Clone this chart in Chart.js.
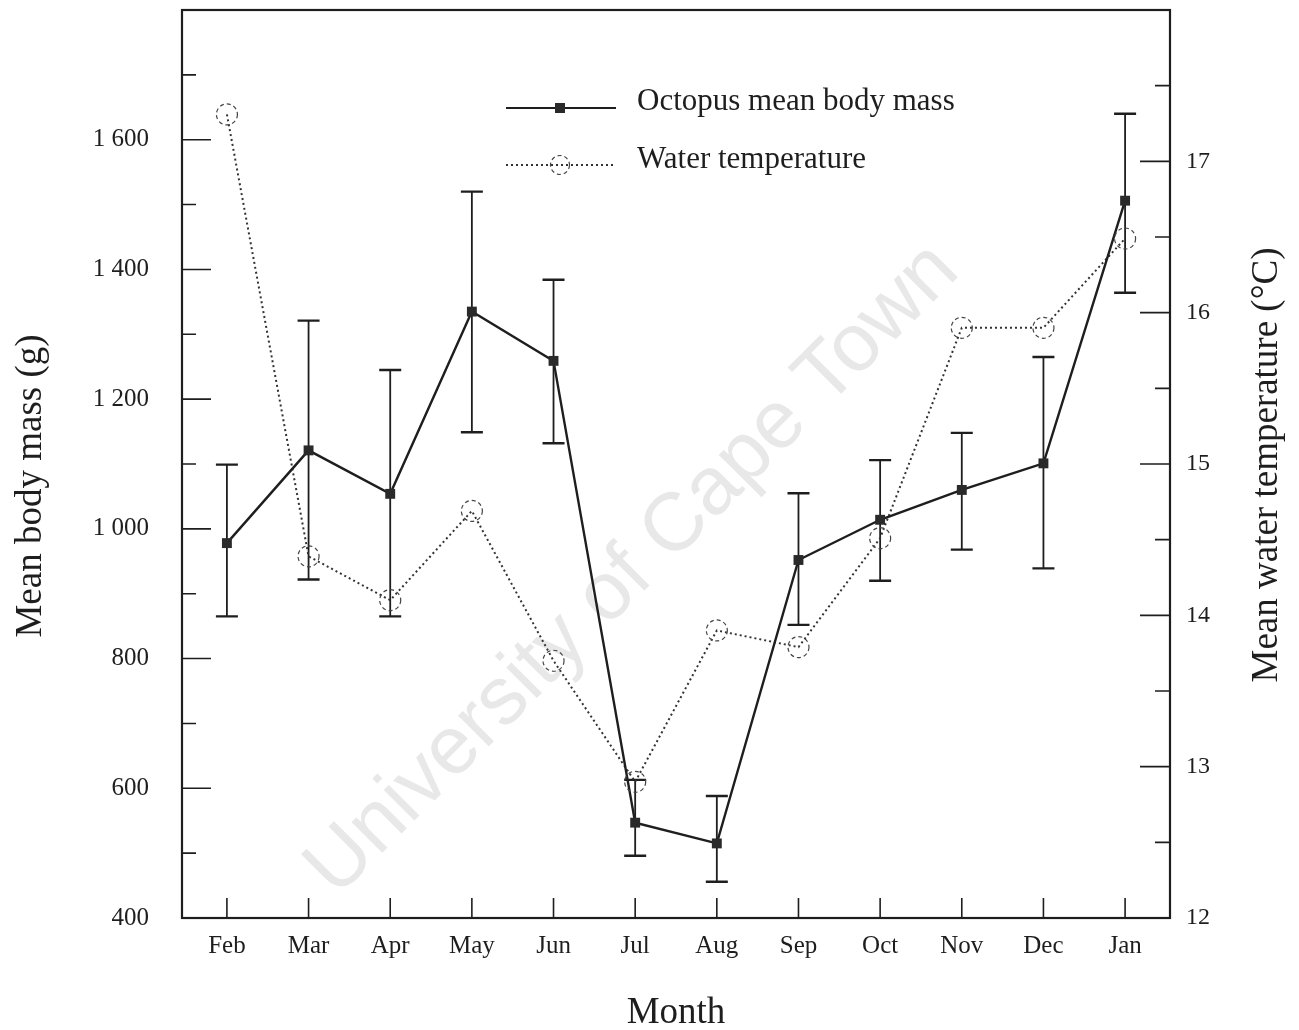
<!DOCTYPE html>
<html>
<head>
<meta charset="utf-8">
<title>Octopus mean body mass and water temperature</title>
<script src="https://cdn.jsdelivr.net/npm/chart.js@4.4.1/dist/chart.umd.min.js"></script>
<style>
    html, body { margin: 0; padding: 0; background: #fff; }
    #wrap { width: 1299px; height: 1030px; }
</style>
</head>
<body>
<div id="wrap"><canvas id="massChart" width="1299" height="1030"></canvas></div>
<script>
const months = ['Feb', 'Mar', 'Apr', 'May', 'Jun', 'Jul', 'Aug', 'Sep', 'Oct', 'Nov', 'Dec', 'Jan'];

// mean body mass (g) with error bar ends
const massMean  = [978, 1121, 1054, 1335, 1259, 547, 515, 952, 1014, 1060, 1101, 1506];
const massUpper = [1099, 1321, 1245, 1520, 1384, 613, 588, 1055, 1106, 1148, 1265, 1640];
const massLower = [865, 922, 865, 1149, 1132, 496, 456, 852, 920, 968, 939, 1364];

// mean water temperature (°C)
const waterTemp = [17.31, 14.39, 14.10, 14.69, 13.70, 12.90, 13.90, 13.79, 14.51, 15.90, 15.90, 16.49];

const SERIF = '"Liberation Serif", "Times New Roman", serif';
const INK = '#1e1e1e';

function fmtMass(v) {
    if (v < 1000) return String(v);
    return Math.floor(v / 1000) + ' ' + String(v % 1000).padStart(3, '0');
}

function dashedCircle(ctx, x, y, r) {
    ctx.save();
    ctx.setLineDash([4, 3]);
    ctx.lineWidth = 1.2;
    ctx.strokeStyle = '#444';
    ctx.beginPath();
    ctx.arc(x, y, r, 0, Math.PI * 2);
    ctx.stroke();
    ctx.restore();
}

// no label overhang padding, the frame sits on fixed edges
function noPad(s) {
    s.paddingTop = 0;
    s.paddingBottom = 0;
    s.paddingLeft = 0;
    s.paddingRight = 0;
}

// faint scan watermark, under everything
const watermark = {
    id: 'watermark',
    beforeDatasetsDraw(chart) {
        const { ctx } = chart;
        ctx.save();
        ctx.translate(633, 570);
        ctx.rotate(-Math.PI / 4);
        ctx.font = '82px "Liberation Sans", Arial, sans-serif';
        ctx.fillStyle = '#e8e8e8';
        ctx.textAlign = 'center';
        ctx.textBaseline = 'middle';
        ctx.fillText('University of Cape Town', 0, 0);
        ctx.restore();
    }
};

const errorBars = {
    id: 'errorBars',
    beforeDatasetsDraw(chart) {
        const { ctx, scales: { x, y } } = chart;
        ctx.save();
        ctx.strokeStyle = INK;
        months.forEach((m, i) => {
            const px = x.getPixelForValue(i);
            const top = y.getPixelForValue(massUpper[i]);
            const bot = y.getPixelForValue(massLower[i]);
            ctx.lineWidth = 1.8;
            ctx.beginPath();
            ctx.moveTo(px, top);
            ctx.lineTo(px, bot);
            ctx.stroke();
            ctx.lineWidth = 2.4;
            ctx.beginPath();
            ctx.moveTo(px - 11, top); ctx.lineTo(px + 11, top);
            ctx.moveTo(px - 11, bot); ctx.lineTo(px + 11, bot);
            ctx.stroke();
        });
        ctx.restore();
    }
};

const tempCircles = {
    id: 'tempCircles',
    afterDatasetsDraw(chart) {
        const meta = chart.getDatasetMeta(1);
        meta.data.forEach(pt => dashedCircle(chart.ctx, pt.x, pt.y, 10.5));
    }
};

// box frame, inward tick marks, y titles and the legend
const frame = {
    id: 'frame',
    afterDraw(chart) {
        const { ctx, chartArea: a, scales: { x, y, y2 } } = chart;
        ctx.save();
        ctx.strokeStyle = INK;
        ctx.lineWidth = 1.6;
        ctx.beginPath();
        const step = y.ticks[1].value - y.ticks[0].value;
        y.ticks.forEach(t => {
            const p = y.getPixelForValue(t.value);
            ctx.moveTo(a.left, p); ctx.lineTo(a.left + 29, p);
            if (t.value + step / 2 < y.max) {
                const q = y.getPixelForValue(t.value + step / 2);
                ctx.moveTo(a.left, q); ctx.lineTo(a.left + 14, q);
            }
        });
        const step2 = y2.ticks[1].value - y2.ticks[0].value;
        y2.ticks.forEach(t => {
            const p = y2.getPixelForValue(t.value);
            ctx.moveTo(a.right, p); ctx.lineTo(a.right - 30, p);
            if (t.value + step2 / 2 < y2.max) {
                const q = y2.getPixelForValue(t.value + step2 / 2);
                ctx.moveTo(a.right, q); ctx.lineTo(a.right - 15, q);
            }
        });
        x.ticks.forEach(t => {
            const p = x.getPixelForValue(t.value);
            ctx.moveTo(p, a.bottom); ctx.lineTo(p, a.bottom - 20);
        });
        ctx.stroke();
        ctx.lineWidth = 2.2;
        ctx.strokeRect(a.left, a.top, a.right - a.left, a.bottom - a.top);

        // y axis titles, both read bottom to top
        ctx.fillStyle = INK;
        ctx.font = `37px ${SERIF}`;
        ctx.textAlign = 'center';
        ctx.textBaseline = 'alphabetic';
        [[41, 486, 'Mean body mass (g)'], [1277, 465, 'Mean water temperature (°C)']].forEach(([tx, ty, txt]) => {
            ctx.save();
            ctx.translate(tx, ty);
            ctx.rotate(-Math.PI / 2);
            ctx.fillText(txt, 0, 0);
            ctx.restore();
        });

        // legend
        const ds = chart.data.datasets;
        ctx.lineWidth = 2.2;
        ctx.beginPath();
        ctx.moveTo(506, 108); ctx.lineTo(616, 108);
        ctx.stroke();
        ctx.fillStyle = '#2a2a2a';
        ctx.fillRect(555, 103, 10, 10);
        ctx.save();
        ctx.setLineDash([2, 3]);
        ctx.lineWidth = 2;
        ctx.strokeStyle = '#333';
        ctx.beginPath();
        ctx.moveTo(506, 165); ctx.lineTo(616, 165);
        ctx.stroke();
        ctx.restore();
        dashedCircle(ctx, 560, 165, 9.5);
        ctx.fillStyle = INK;
        ctx.font = `31px ${SERIF}`;
        ctx.textAlign = 'left';
        ctx.fillText(ds[0].label, 637, 110);
        ctx.fillText(ds[1].label, 637, 168);
        ctx.restore();
    }
};

const ctx = document.getElementById('massChart').getContext('2d');
new Chart(ctx, {
    type: 'line',
    data: {
        datasets: [
            {
                label: 'Octopus mean body mass',
                data: months.map((m, i) => ({ x: i, y: massMean[i] })),
                yAxisID: 'y',
                borderColor: INK,
                borderWidth: 2.4,
                pointStyle: 'rect',
                pointRadius: 7,
                pointBackgroundColor: '#2a2a2a',
                pointBorderWidth: 0,
                tension: 0
            },
            {
                label: 'Water temperature',
                data: months.map((m, i) => ({ x: i, y: waterTemp[i] })),
                yAxisID: 'y2',
                borderColor: '#333',
                borderWidth: 2,
                borderDash: [2, 3],
                pointRadius: 0,
                tension: 0
            }
        ]
    },
    options: {
        responsive: false,
        animation: false,
        layout: { padding: { top: 10, left: 0, right: 0, bottom: 0 } },
        plugins: {
            legend: { display: false },
            tooltip: { enabled: false }
        },
        scales: {
            x: {
                type: 'linear',
                min: -0.55,
                max: 11.55,
                afterBuildTicks: s => { s.ticks = months.map((m, i) => ({ value: i })); },
                afterFit: s => { s.height = 112; noPad(s); },
                ticks: {
                    callback: v => months[v],
                    autoSkip: false,
                    maxRotation: 0,
                    padding: 13,
                    color: INK,
                    font: { family: SERIF, size: 25 }
                },
                grid: { display: false, drawTicks: false },
                border: { display: false },
                title: {
                    display: true,
                    text: 'Month',
                    color: INK,
                    font: { family: SERIF, size: 37 },
                    padding: { top: 0, bottom: -5 }
                }
            },
            y: {
                position: 'left',
                min: 400,
                max: 1800,
                afterFit: s => { s.width = 182; noPad(s); },
                ticks: {
                    stepSize: 200,
                    callback: v => v >= 1800 ? '' : fmtMass(v),
                    padding: 33,
                    color: INK,
                    font: { family: SERIF, size: 25 }
                },
                grid: { display: false, drawTicks: false },
                border: { display: false }
            },
            y2: {
                position: 'right',
                min: 12,
                max: 18,
                afterFit: s => { s.width = 129; noPad(s); },
                ticks: {
                    stepSize: 1,
                    callback: v => v >= 18 ? '' : String(v),
                    padding: 16,
                    color: INK,
                    font: { family: SERIF, size: 24 }
                },
                grid: { display: false, drawTicks: false },
                border: { display: false }
            }
        }
    },
    plugins: [watermark, errorBars, tempCircles, frame]
});
</script>
</body>
</html>
